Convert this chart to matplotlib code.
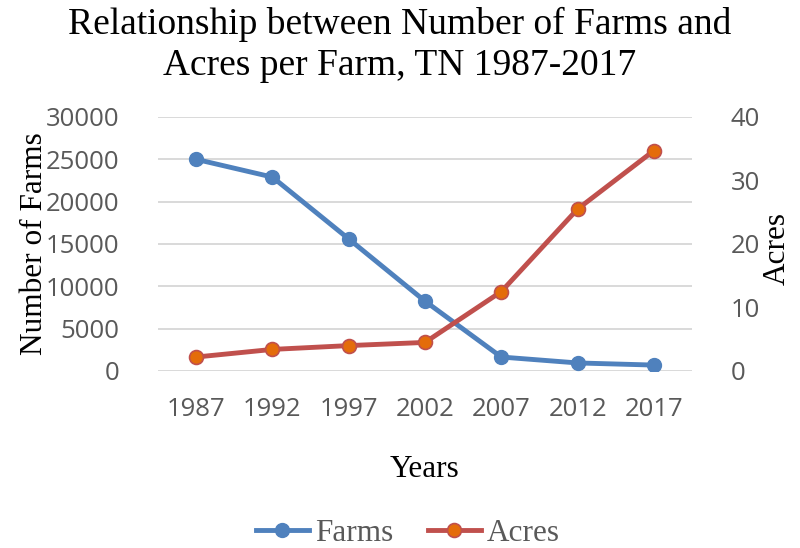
import matplotlib.pyplot as plt

years = ["1987", "1992", "1997", "2002", "2007", "2012", "2017"]
farms = [25000, 22900, 15600, 8250, 1650, 950, 700]
acres = [2.2, 3.4, 4.0, 4.5, 12.5, 25.5, 34.7]

serif = "Liberation Serif"
sans = "Open Sans"
tick_color = "#595959"

fig = plt.figure(figsize=(8, 5.48), dpi=100)
ax = fig.add_axes([0.1975, 0.323, 0.6675, 0.4635])
ax2 = ax.twinx()

x = list(range(len(years)))
l1, = ax.plot(x, farms, color="#4F81BD", lw=3.5, marker="o", ms=10,
              mfc="#4F81BD", mec="#4F81BD", label="Farms", zorder=3)
l2, = ax2.plot(x, acres, color="#C0504D", lw=3.5, marker="o", ms=10,
               mfc="#E46C0A", mec="#C0504D", mew=1.2, label="Acres", zorder=3)

ax.set_xlim(-0.5, 6.5)
ax.set_ylim(0, 30000)
ax2.set_ylim(0, 40)
ax.set_yticks(range(0, 30001, 5000))
ax2.set_yticks(range(0, 41, 10))
ax.set_xticks(x)
ax.set_xticklabels(years)

ax.grid(axis="y", color="#d9d9d9", lw=1.4)
ax.set_axisbelow(True)
for a in (ax, ax2):
    for s in a.spines.values():
        s.set_visible(False)
    a.tick_params(length=0, labelsize=18.5, labelcolor=tick_color)
    for lab in a.get_xticklabels() + a.get_yticklabels():
        lab.set_fontfamily(sans)
ax.tick_params(axis="y", pad=28)
ax2.tick_params(axis="y", pad=28)
ax.tick_params(axis="x", pad=19)

ax.set_ylabel("Number of Farms", fontfamily=serif, fontsize=22.5)
ax.yaxis.set_label_coords(-0.205, 0.5)
ax2.set_ylabel("Acres", fontfamily=serif, fontsize=22.5, rotation=90)
ax2.yaxis.set_label_coords(1.133, 0.484)
ax.set_xlabel("Years", fontfamily=serif, fontsize=22.5)
ax.xaxis.set_label_coords(0.5, -0.33)

fig.suptitle("Relationship between Number of Farms and\nAcres per Farm, TN 1987-2017",
             fontfamily=serif, fontsize=27, y=0.988, linespacing=1.25)

fig.legend([l1, l2], ["Farms", "Acres"], loc="center", bbox_to_anchor=(0.51, 0.027),
           ncol=2, frameon=False, prop={"family": serif, "size": 22.5},
           labelcolor=tick_color, handlelength=1.7, handletextpad=0.2, columnspacing=1.1)

fig.savefig("out.png", dpi=100)
